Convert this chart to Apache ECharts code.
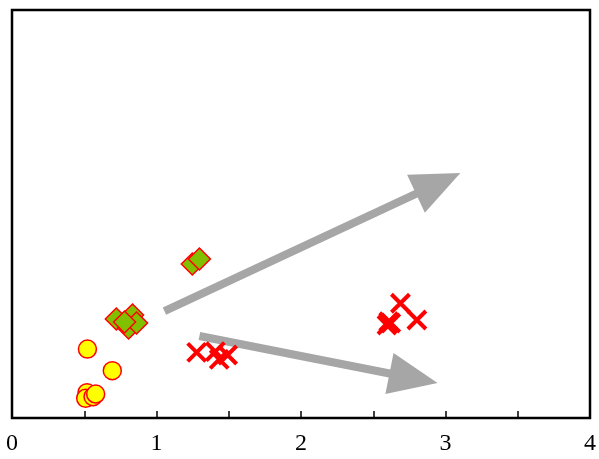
<!DOCTYPE html>
<html>
<head>
<meta charset="utf-8">
<script src="https://cdn.jsdelivr.net/npm/echarts@6/dist/echarts.min.js"></script>
<style>html,body{margin:0;padding:0;background:#fff}#c{width:599px;height:459px}</style>
</head>
<body>
<div id="c"></div>
<script>
// x tick labels
var xTicks = [0, 1, 2, 3, 4];
// yellow circles
var circleX = [0.522, 0.694, 0.519, 0.510, 0.561, 0.579];
var circleY = [0.676, 0.464, 0.248, 0.193, 0.209, 0.235];
// green diamonds
var diamondX = [1.248, 1.297, 0.722, 0.834, 0.807, 0.862, 0.779];
var diamondY = [1.510, 1.559, 0.971, 1.010, 0.882, 0.931, 0.941];
// red crosses
var crossX = [1.278, 1.407, 1.434, 1.492, 2.688, 2.802, 2.607, 2.595, 2.621];
var crossY = [0.644, 0.650, 0.575, 0.618, 1.125, 0.961, 0.944, 0.912, 0.931];
// arrows: start x, start y, end x, end y
var arrowStartX = [1.055, 1.297];
var arrowStartY = [1.049, 0.804];
var arrowEndX = [3.103, 2.945];
var arrowEndY = [2.402, 0.343];

function zip(a, b) { return a.map(function (v, i) { return [v, b[i]]; }); }
var arrows = arrowStartX.map(function (v, i) { return [v, arrowStartY[i], arrowEndX[i], arrowEndY[i]]; });

var crossPath = 'path://M0,0L10,10M10,0L0,10';

var chart = echarts.init(document.getElementById('c'), null, {renderer: 'canvas'});
chart.setOption({
  animation: false,
  grid: {left: 12, right: 7, top: 10, bottom: 41, show: true, borderColor: '#000', borderWidth: 2.5, backgroundColor: 'transparent'},
  xAxis: {
    type: 'value', min: 0, max: 4, interval: 0.5,
    axisLine: {show: false},
    splitLine: {show: false},
    axisTick: {show: true, inside: true, length: 7, lineStyle: {color: '#000', width: 1.5}},
    axisLabel: {
      margin: 14, color: '#000', fontFamily: 'Liberation Serif', fontSize: 24,
      formatter: function (v) { return xTicks.indexOf(v) >= 0 ? String(v) : ''; }
    }
  },
  yAxis: {
    type: 'value', min: 0, max: 4,
    axisLine: {show: false}, axisTick: {show: false}, axisLabel: {show: false}, splitLine: {show: false}
  },
  series: [
    {
      type: 'custom',
      data: arrows,
      z: 1,
      renderItem: function (params, api) {
        var p1 = api.coord([api.value(0), api.value(1)]);
        var p2 = api.coord([api.value(2), api.value(3)]);
        var dx = p2[0] - p1[0], dy = p2[1] - p1[1];
        var L = Math.sqrt(dx * dx + dy * dy);
        var ux = dx / L, uy = dy / L;
        var nx = -uy, ny = ux;
        var hl = 49, hw = 21;
        var bx = p2[0] - ux * hl, by = p2[1] - uy * hl;
        return {
          type: 'group',
          children: [
            {type: 'line', shape: {x1: p1[0], y1: p1[1], x2: bx + ux * 4, y2: by + uy * 4},
             style: {stroke: '#a6a6a6', lineWidth: 8, lineCap: 'butt'}},
            {type: 'polygon', shape: {points: [[p2[0], p2[1]], [bx + nx * hw, by + ny * hw], [bx - nx * hw, by - ny * hw]]},
             style: {fill: '#a6a6a6'}}
          ]
        };
      }
    },
    {
      type: 'scatter', data: zip(circleX, circleY), symbol: 'circle', symbolSize: 18,
      itemStyle: {color: '#ffff00', borderColor: '#ff0000', borderWidth: 1.5, opacity: 1}, z: 3
    },
    {
      type: 'scatter', data: zip(diamondX, diamondY), symbol: 'diamond', symbolSize: 22,
      itemStyle: {color: '#80c000', borderColor: '#ff0000', borderWidth: 1.5, opacity: 1}, z: 3
    },
    {
      type: 'scatter', data: zip(crossX, crossY), symbol: crossPath, symbolSize: 18,
      itemStyle: {color: 'none', borderColor: '#ff0000', borderWidth: 4, opacity: 1}, z: 3
    }
  ]
});
</script>
</body>
</html>
